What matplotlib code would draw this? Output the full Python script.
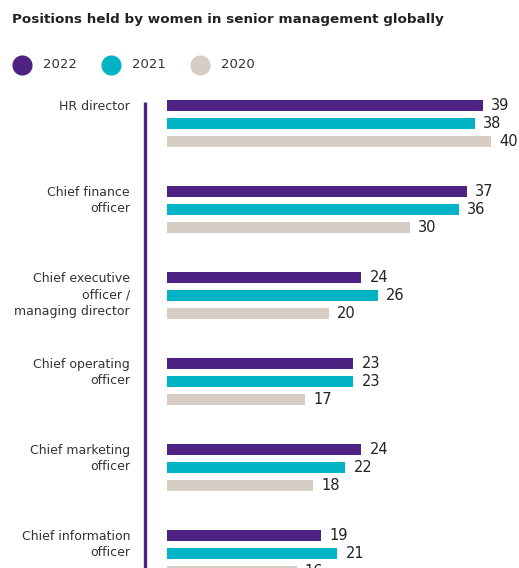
import matplotlib.pyplot as plt
import numpy as np

roles = ["HR director", "Chief finance\nofficer", "Chief executive\nofficer /\nmanaging director",
         "Chief operating\nofficer", "Chief marketing\nofficer", "Chief information\nofficer"]
years = ["2022", "2021", "2020"]
v2022 = [39, 37, 24, 23, 24, 19]
v2021 = [38, 36, 26, 23, 22, 21]
v2020 = [40, 30, 20, 17, 18, 16]
colors = ["#4e2283", "#00b4c6", "#d7cdc5"]

W, H = 519, 568
fig = plt.figure(figsize=(W / 100, H / 100), dpi=100)

# overlay in pixel coordinates for title and legend
over = fig.add_axes([0, 0, 1, 1])
over.set_xlim(0, W)
over.set_ylim(H, 0)
over.axis("off")
over.text(12, 20, "Positions held by women in senior management globally",
          fontsize=9.7, fontweight="bold", color="#222222", va="center", ha="left")
for i, (yr, c) in enumerate(zip(years, colors)):
    x0 = 22 + i * 89
    over.scatter([x0], [65], s=210, color=c, linewidths=0)
    over.text(x0 + 21, 65, yr, fontsize=9.5, color="#333333", va="center", ha="left")

# bar chart area: 1 unit in y = one group (86 px), 1 unit in x = 8.1 px
px = 8.1
gpx = 86.0
left, top = 167, 90
ax = fig.add_axes([left / W, 0, 1 - left / W, (H - top) / H])
ax.set_xlim(0, (W - left) / px)
ax.set_ylim((H - 105) / gpx, -15 / gpx)
ax.axis("off")

step = 18 / gpx
bh = 11 / gpx
g = np.arange(len(roles))
for j, (vals, c) in enumerate(zip([v2022, v2021, v2020], colors)):
    ys = g + j * step
    ax.barh(ys, vals, height=bh, color=c, clip_on=False)
    for y, v in zip(ys, vals):
        ax.annotate(str(v), (v, y), xytext=(6, 0), textcoords="offset points",
                    va="center", ha="left", fontsize=10.5, color="#222222",
                    annotation_clip=False)

for y, r in zip(g, roles):
    ax.text(-37 / px, y - 5 / gpx, r, ha="right", va="top", fontsize=9,
            color="#333333", linespacing=1.35)

ax.plot([-22 / px, -22 / px], [-3 / gpx, 6], color="#4e2283", lw=2.4,
        clip_on=False, solid_capstyle="butt")

fig.savefig("out.png", dpi=100)
